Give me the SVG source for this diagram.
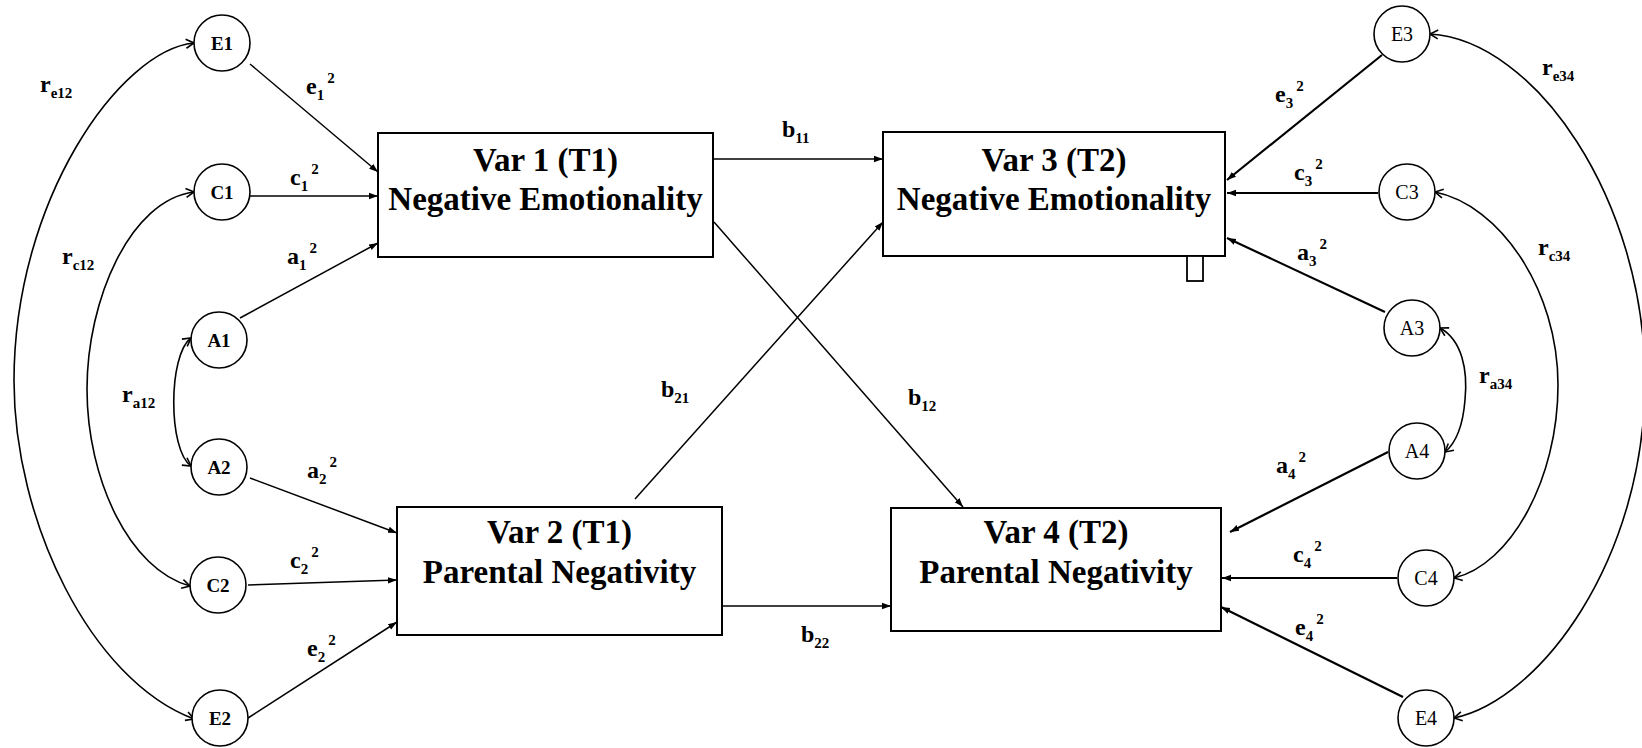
<svg xmlns="http://www.w3.org/2000/svg" width="1642" height="748" viewBox="0 0 1642 748">
<defs>
<marker id="tri" markerUnits="userSpaceOnUse" markerWidth="10" markerHeight="8" refX="9" refY="4" orient="auto"><path d="M0,0.8 L9,4 L0,7.2 Z" fill="#000"/></marker>
<marker id="chev" markerUnits="userSpaceOnUse" markerWidth="12" markerHeight="12" refX="9" refY="6" orient="auto-start-reverse"><path d="M1,1.5 L9,6 L1,10.5" fill="none" stroke="#000" stroke-width="1.6"/></marker>
</defs>
<style>
text{font-family:"Liberation Serif","Times New Roman",serif;fill:#000}
.box{fill:#fff;stroke:#000;stroke-width:2}
.node{fill:#fff;stroke:#000;stroke-width:1.6}
.bt{font-size:33px;font-weight:bold;text-anchor:middle}
.nl{font-size:19px;font-weight:bold;text-anchor:middle}
.nr{font-size:20px;text-anchor:middle}
.lab{font-size:24px;font-weight:bold}
.sub{font-size:15px}
.ar{stroke:#000;stroke-width:1.5;fill:none;marker-end:url(#tri)}
.arr{stroke:#000;stroke-width:2.2;fill:none;marker-end:url(#tri)}
.cv{stroke:#000;stroke-width:1.6;fill:none;marker-start:url(#chev);marker-end:url(#chev)}
</style>
<rect width="1642" height="748" fill="#fff"/>
<g id="connectors">
<line class="ar" x1="250" y1="64" x2="378" y2="172"/>
<line class="ar" x1="250" y1="196" x2="378" y2="196"/>
<line class="ar" x1="240" y1="318" x2="378" y2="243"/>
<line class="ar" x1="250" y1="478" x2="397" y2="533"/>
<line class="ar" x1="248" y1="585" x2="397" y2="580"/>
<line class="ar" x1="248" y1="718" x2="397" y2="622"/>
<line class="arr" x1="1382" y1="55" x2="1227" y2="180"/>
<line class="arr" x1="1378" y1="193" x2="1227" y2="193"/>
<line class="arr" x1="1385" y1="312" x2="1227" y2="238"/>
<line class="arr" x1="1388" y1="452" x2="1230" y2="532"/>
<line class="arr" x1="1397" y1="578" x2="1222" y2="578"/>
<line class="arr" x1="1403" y1="697" x2="1221" y2="607"/>
<line class="ar" x1="714" y1="159" x2="883" y2="159"/>
<line class="ar" x1="714" y1="222" x2="963" y2="507"/>
<line class="ar" x1="635" y1="499" x2="883" y2="222"/>
<line class="ar" x1="722" y1="606" x2="891" y2="606"/>
<path class="cv" d="M194,43 C120,50 14,200 14,381 C14,520 90,680 194,719"/>
<path class="cv" d="M194,192 C130,200 87,300 87,389 C87,480 130,570 190,586"/>
<path class="cv" d="M191,338 C168,355 168,450 191,466"/>
<path class="cv" d="M1430,34 C1535,40 1645,200 1645,380 C1645,560 1540,700 1454,718"/>
<path class="cv" d="M1435,192 C1500,205 1558,290 1558,385 C1558,480 1510,565 1454,578"/>
<path class="cv" d="M1440,328 C1462,340 1468,370 1465,400 C1463,425 1457,442 1445,452"/>
</g>
<g id="labels">
<text class="lab" x="306" y="94">e<tspan class="sub" dy="6">1</tspan><tspan class="sub" dx="3" dy="-17">2</tspan></text>
<text class="lab" x="290" y="185">c<tspan class="sub" dy="6">1</tspan><tspan class="sub" dx="3" dy="-17">2</tspan></text>
<text class="lab" x="287" y="264">a<tspan class="sub" dy="6">1</tspan><tspan class="sub" dx="3" dy="-17">2</tspan></text>
<text class="lab" x="307" y="478">a<tspan class="sub" dy="6">2</tspan><tspan class="sub" dx="3" dy="-17">2</tspan></text>
<text class="lab" x="290" y="568">c<tspan class="sub" dy="6">2</tspan><tspan class="sub" dx="3" dy="-17">2</tspan></text>
<text class="lab" x="307" y="656">e<tspan class="sub" dy="6">2</tspan><tspan class="sub" dx="3" dy="-17">2</tspan></text>
<text class="lab" x="1275" y="102">e<tspan class="sub" dy="6">3</tspan><tspan class="sub" dx="3" dy="-17">2</tspan></text>
<text class="lab" x="1294" y="180">c<tspan class="sub" dy="6">3</tspan><tspan class="sub" dx="3" dy="-17">2</tspan></text>
<text class="lab" x="1297" y="260">a<tspan class="sub" dy="6">3</tspan><tspan class="sub" dx="3" dy="-17">2</tspan></text>
<text class="lab" x="1276" y="473">a<tspan class="sub" dy="6">4</tspan><tspan class="sub" dx="3" dy="-17">2</tspan></text>
<text class="lab" x="1293" y="562">c<tspan class="sub" dy="6">4</tspan><tspan class="sub" dx="3" dy="-17">2</tspan></text>
<text class="lab" x="1295" y="635">e<tspan class="sub" dy="6">4</tspan><tspan class="sub" dx="3" dy="-17">2</tspan></text>
<text class="lab" x="40" y="92">r<tspan class="sub" dy="6">e12</tspan></text>
<text class="lab" x="62" y="264">r<tspan class="sub" dy="6">c12</tspan></text>
<text class="lab" x="122" y="402">r<tspan class="sub" dy="6">a12</tspan></text>
<text class="lab" x="1542" y="75">r<tspan class="sub" dy="6">e34</tspan></text>
<text class="lab" x="1538" y="255">r<tspan class="sub" dy="6">c34</tspan></text>
<text class="lab" x="1479" y="383">r<tspan class="sub" dy="6">a34</tspan></text>
<text class="lab" x="782" y="137">b<tspan class="sub" dy="6">11</tspan></text>
<text class="lab" x="661" y="397">b<tspan class="sub" dy="6">21</tspan></text>
<text class="lab" x="908" y="405">b<tspan class="sub" dy="6">12</tspan></text>
<text class="lab" x="801" y="642">b<tspan class="sub" dy="6">22</tspan></text>
</g>
<g id="var1"><rect class="box" x="378" y="133" width="335" height="124"/><text class="bt" x="545.5" y="171">Var 1 (T1)</text><text class="bt" x="545.5" y="210">Negative Emotionality</text></g>
<g id="var3"><rect class="box" x="883" y="132" width="342" height="124"/><rect x="1187" y="256" width="16" height="25" fill="#fff" stroke="#000" stroke-width="1.8"/><text class="bt" x="1054" y="171">Var 3 (T2)</text><text class="bt" x="1054" y="210">Negative Emotionality</text></g>
<g id="var2"><rect class="box" x="397" y="507" width="325" height="128"/><text class="bt" x="559.5" y="543">Var 2 (T1)</text><text class="bt" x="559.5" y="583">Parental Negativity</text></g>
<g id="var4"><rect class="box" x="891" y="508" width="330" height="123"/><text class="bt" x="1056" y="543">Var 4 (T2)</text><text class="bt" x="1056" y="583">Parental Negativity</text></g>
<g id="E1"><circle class="node" cx="222" cy="43" r="28"/><text class="nl" x="222" y="50">E1</text></g>
<g id="C1"><circle class="node" cx="222" cy="192" r="28"/><text class="nl" x="222" y="199">C1</text></g>
<g id="A1"><circle class="node" cx="219" cy="340" r="28"/><text class="nl" x="219" y="347">A1</text></g>
<g id="A2"><circle class="node" cx="219" cy="467" r="28"/><text class="nl" x="219" y="474">A2</text></g>
<g id="C2"><circle class="node" cx="218" cy="585" r="28"/><text class="nl" x="218" y="592">C2</text></g>
<g id="E2"><circle class="node" cx="220" cy="718" r="28"/><text class="nl" x="220" y="725">E2</text></g>
<g id="E3"><circle class="node" cx="1402" cy="34" r="28"/><text class="nr" x="1402" y="41">E3</text></g>
<g id="C3"><circle class="node" cx="1407" cy="192" r="28"/><text class="nr" x="1407" y="199">C3</text></g>
<g id="A3"><circle class="node" cx="1412" cy="328" r="28"/><text class="nr" x="1412" y="335">A3</text></g>
<g id="A4"><circle class="node" cx="1417" cy="451" r="28"/><text class="nr" x="1417" y="458">A4</text></g>
<g id="C4"><circle class="node" cx="1426" cy="578" r="28"/><text class="nr" x="1426" y="585">C4</text></g>
<g id="E4"><circle class="node" cx="1426" cy="718" r="28"/><text class="nr" x="1426" y="725">E4</text></g>
</svg>
